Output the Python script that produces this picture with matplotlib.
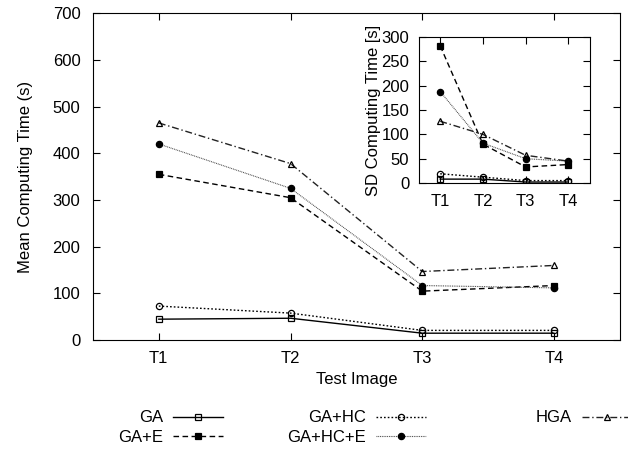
import numpy as np
import matplotlib
matplotlib.use("Agg")
import matplotlib.pyplot as plt

plt.rcParams['font.family'] = ['Liberation Sans', 'DejaVu Sans']

tests = ['T1', 'T2', 'T3', 'T4']
names = ['GA', 'GA+E', 'GA+HC', 'GA+HC+E', 'HGA']

# mean computing time (s)
mean_ga = [45, 47, 15, 15]
mean_ga_e = [355, 305, 105, 117]
mean_ga_hc = [73, 58, 21, 21]
mean_ga_hc_e = [420, 325, 117, 112]
mean_hga = [465, 378, 147, 160]

# SD computing time (s)
sd_ga = [8, 8, 2, 2]
sd_ga_e = [282, 80, 33, 38]
sd_ga_hc = [19, 12, 5, 5]
sd_ga_hc_e = [188, 82, 50, 45]
sd_hga = [127, 100, 57, 45]

means = [mean_ga, mean_ga_e, mean_ga_hc, mean_ga_hc_e, mean_hga]
sds = [sd_ga, sd_ga_e, sd_ga_hc, sd_ga_hc_e, sd_hga]

styles = [   # linestyle, marker, fill, colour, width
    ('-', 's', 'none', 'black', 1.0),
    ((0, (4, 2.5)), 's', 'black', 'black', 1.0),
    ((0, (1.2, 1.5)), 'o', 'none', 'black', 1.0),
    ((0, (0.8, 0.8)), 'o', 'black', '#444444', 0.8),
    ((0, (5, 2, 1, 2)), '^', 'none', '#222222', 1.0),
]

x = np.arange(1, len(tests) + 1)

fig = plt.figure(figsize=(6.28, 4.53), dpi=100)
ax = fig.add_axes([0.148, 0.249, 0.839, 0.722])
lines = []
for name, vals, (ls, mk, fc, col, lw) in zip(names, means, styles):
    ln, = ax.plot(x, vals, linestyle=ls, marker=mk, color=col, lw=lw,
                  markerfacecolor=fc, markeredgecolor='black', markersize=4.5,
                  markeredgewidth=0.9, label=name)
    lines.append(ln)

ax.set_xlim(0.5, 4.5)
ax.set_ylim(0, 700)
ax.set_xticks(x)
ax.set_xticklabels(tests)
ax.set_yticks(np.arange(0, 701, 100))
ax.tick_params(direction='in', top=True, right=True, labelsize=12, length=5)
ax.tick_params(axis='y', pad=9)
ax.tick_params(axis='x', pad=8)
ax.set_xlabel('Test Image', fontsize=12, labelpad=4)
ax.set_ylabel('Mean Computing Time (s)', fontsize=12, labelpad=14)

# inset with standard deviation
ins = fig.add_axes([0.667, 0.596, 0.272, 0.322])
for vals, (ls, mk, fc, col, lw) in zip(sds, styles):
    ins.plot(x, vals, linestyle=ls, marker=mk, color=col, lw=lw,
             markerfacecolor=fc, markeredgecolor='black', markersize=4.5,
             markeredgewidth=0.9)
ins.set_xlim(0.5, 4.5)
ins.set_ylim(0, 300)
ins.set_xticks(x)
ins.set_xticklabels(tests)
ins.set_yticks(np.arange(0, 301, 50))
ins.tick_params(direction='in', top=True, right=True, labelsize=12, length=5)
ins.tick_params(axis='y', pad=7)
ins.tick_params(axis='x', pad=8)
ins.set_ylabel('SD Computing Time [s]', fontsize=12, labelpad=0)

# gnuplot style key: text right aligned, sample after it
key_pos = [(223, 418), (223, 437), (426, 418), (426, 437), (632, 418)]
for ln, (px, py) in zip(lines, key_pos):
    fig.legend(handles=[ln], loc='center right', frameon=False,
               bbox_to_anchor=(px / 628, 1 - py / 453), markerfirst=False,
               handlelength=3.0, handletextpad=0.6, borderpad=0,
               borderaxespad=0, numpoints=1, fontsize=12)

fig.savefig('out.png', dpi=100)
